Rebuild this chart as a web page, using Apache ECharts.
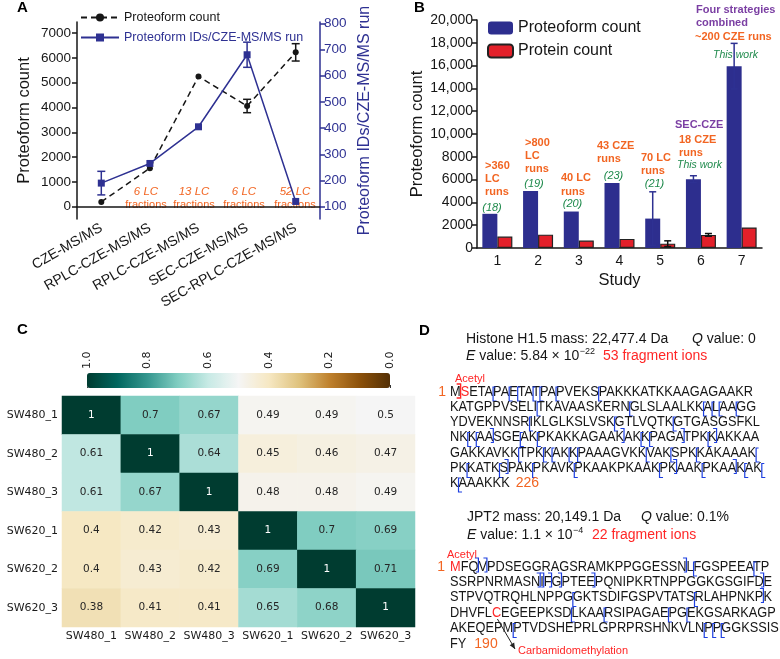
<!DOCTYPE html>
<html><head><meta charset="utf-8">
<script src="https://cdn.jsdelivr.net/npm/echarts@6/dist/echarts.min.js"></script>
<style>html,body{margin:0;padding:0;background:#fff}#c{width:780px;height:659px}</style>
</head><body><div id="c"></div>
<script>
// ---------------- DATA ----------------
// Panel A
const aCategories = ['CZE-MS/MS', 'RPLC-CZE-MS/MS', 'RPLC-CZE-MS/MS', 'SEC-CZE-MS/MS', 'SEC-RPLC-CZE-MS/MS'];
const aProteoformCount = [190, 1550, 5250, 4060, 6225];
const aProteoformCountErr = [0, 0, 0, 270, 350];
const aIdsPerRun = [190, 265, 405, 680, 120];
const aIdsPerRunErr = [45, 0, 0, 48, 0];
const aLeftTicks = [0, 1000, 2000, 3000, 4000, 5000, 6000, 7000];
const aRightTicks = [100, 200, 300, 400, 500, 600, 700, 800];
const aFractionNotes = [['6 LC', 'fractions'], ['13 LC', 'fractions'], ['6 LC', 'fractions'], ['52 LC', 'fractions']];

// Panel B
const bStudies = ['1', '2', '3', '4', '5', '6', '7'];
const bProteoformCount = [3000, 5000, 3200, 5700, 2580, 6040, 15950];
const bProteoformErr = [0, 0, 0, 0, 2350, 300, 2000];
const bProteinCount = [1000, 1170, 650, 800, 380, 1150, 1800];
const bProteinErr = [0, 0, 0, 0, 250, 120, 0];
const bTicks = [0, 2000, 4000, 6000, 8000, 10000, 12000, 14000, 16000, 18000, 20000];

// Panel C
const cSamples = ['SW480_1', 'SW480_2', 'SW480_3', 'SW620_1', 'SW620_2', 'SW620_3'];
const cCorrelation = [
  [1, 0.7, 0.67, 0.49, 0.49, 0.5],
  [0.61, 1, 0.64, 0.45, 0.46, 0.47],
  [0.61, 0.67, 1, 0.48, 0.48, 0.49],
  [0.4, 0.42, 0.43, 1, 0.7, 0.69],
  [0.4, 0.43, 0.42, 0.69, 1, 0.71],
  [0.38, 0.41, 0.41, 0.65, 0.68, 1]
];
const cColorbarTicks = [0, 0.2, 0.4, 0.6, 0.8, 1.0];

// Panel D
const dH15Title = 'Histone H1.5 mass: 22,477.4 Da';
const dH15Q = ' value: 0';
const dH15E = ' value: 5.84 × 10';
const dH15Exp = '−22';
const dH15Ions = '53 fragment ions';
const dH15Seq = [
  'MSETAPAETATPAPVEKSPAKKKATKKAAGAGAAKR',
  'KATGPPVSELITKAVAASKERNGLSLAALKKALAAGG',
  'YDVEKNNSRIKLGLKSLVSKGTLVQTKGTGASGSFKL',
  'NKKAASGEAKPKAKKAGAAKAKKPAGATPKKAKKAA',
  'GAKKAVKKTPKKAKKPAAAGVKKVAKSPKKAKAAAK',
  'PKKATKSPAKPKAVKPKAAKPKAAKPKAAKPKAAKAK',
  'KAAAKKK'
];
const dH15Length = '226';
const dH15Cuts = [
  [[5,'c'],[7,'c'],[8,'c'],[10,'c'],[11,'c'],[13,'c'],[18,'c']],
  [[11,'c'],[22,'c'],[31,'c'],[32,'c'],[33,'c'],[35,'c']],
  [[9,'c'],[20,'c'],[27,'c']],
  [[2,'c'],[3,'c'],[5,'n'],[8,'c'],[10,'c'],[20,'n'],[22,'c'],[23,'c'],[27,'n'],[30,'c'],[31,'n']],
  [[8,'c'],[11,'c'],[12,'c'],[14,'c'],[15,'c'],[23,'c'],[26,'c'],[29,'c'],[36,'c']],
  [[2,'c'],[6,'c'],[7,'n'],[10,'c'],[15,'c'],[25,'c'],[27,'n'],[30,'c'],[34,'n'],[35,'c'],[37,'c']],
  [[1,'c']]
];
const dH15Red = [[0, 1]]; // [line, index] of red residues
const dJPT2Title = 'JPT2 mass: 20,149.1 Da';
const dJPT2Q = ' value: 0.1%';
const dJPT2E = ' value: 1.1 × 10';
const dJPT2Exp = '−4';
const dJPT2Ions = '22 fragment ions';
const dJPT2Seq = [
  'MFQVPDSEGGRAGSRAMKPPGGESSNLFGSPEEATP',
  'SSRPNRMASNIFGPTEEPQNIPKRTNPPGGKGSGIFDE',
  'STPVQTRQHLNPPGGKTSDIFGSPVTATSRLAHPNKPK',
  'DHVFLCEGEEPKSDLKAARSIPAGAEPGEKGSARKAGP',
  'AKEQEPMPTVDSHEPRLGPRPRSHNKVLNPPGGKSSIS',
  'FY'
];
const dJPT2Length = '190';
const dJPT2Cuts = [
  [[3,'n'],[4,'n'],[26,'n'],[27,'c'],[34,'c']],
  [[10,'n'],[11,'n'],[12,'n'],[13,'n'],[17,'n'],[37,'n']],
  [[14,'c'],[29,'c'],[37,'n']],
  [[14,'c'],[18,'c'],[26,'c'],[28,'c']],
  [[7,'c'],[29,'c'],[30,'c'],[31,'c']],
  []
];
const dJPT2Red = [[0, 0], [3, 5]];
const dAcetyl = 'Acetyl';
const dCarbamido = 'Carbamidomethylation';

// ---------------- STYLE ----------------
const SANS = '"Liberation Sans", Arial, sans-serif';
const DJ = '"DejaVu Sans", sans-serif';
const INK = '#161616';
const BLUE = '#2e3192';
const BAR_BLUE = '#2d2e8e';
const RED = '#e3202a';
const ORANGE = '#f26522';
const PURPLE = '#7b3fa3';
const GREEN = '#1f8a4c';
const FRAG_RED = '#ff2626';
const FRAG_BLUE = '#1d3fe0';
const BRBG = ['#543005','#8c510a','#bf812d','#dfc27d','#f6e8c3','#f5f5f5','#c7eae5','#80cdc1','#35978f','#01665e','#003c30'];

const chart = echarts.init(document.getElementById('c'), null, {renderer: 'canvas'});

function errBar(color, offsetPx, capHalf) {
  return function (params, api) {
    const i = api.value(0), v = api.value(1), e = api.value(2);
    if (!e) return null;
    const top = api.coord([i, v + e]), bot = api.coord([i, v - e]);
    const x = top[0] + offsetPx;
    const st = {stroke: color, lineWidth: 1.5};
    return {type: 'group', children: [
      {type: 'line', shape: {x1: x, y1: top[1], x2: x, y2: bot[1]}, style: st},
      {type: 'line', shape: {x1: x - capHalf, y1: top[1], x2: x + capHalf, y2: top[1]}, style: st},
      {type: 'line', shape: {x1: x - capHalf, y1: bot[1], x2: x + capHalf, y2: bot[1]}, style: st}
    ]};
  };
}

// ---------------- GRAPHICS ----------------
const mctx = document.createElement('canvas').getContext('2d');
function measure(s, font) { mctx.font = font; return mctx.measureText(s).width; }
const gfx = [];
function txt(x, y, text, font, fill, align, extra) {
  const el = {type: 'text', x: x, y: y, silent: true,
    style: {text: text, font: font, fill: fill, textAlign: align || 'left', textVerticalAlign: 'middle', align: align || 'left', verticalAlign: 'middle'}};
  if (extra) Object.assign(el, extra);
  gfx.push(el);
}
function pline(points, color, w) {
  gfx.push({type: 'polyline', silent: true, shape: {points: points}, style: {stroke: color, lineWidth: w || 1.2, fill: null}});
}

// Panel labels
const LBL = 'bold 15px ' + SANS;
txt(17, 8, 'A', LBL, '#000');
txt(414, 8, 'B', LBL, '#000');
txt(17, 330, 'C', LBL, '#000');
txt(419, 331, 'D', LBL, '#000');

// Panel A notes
const aNoteX = [146, 194, 244, 295];
aFractionNotes.forEach((n, i) => {
  txt(aNoteX[i], 192, n[0], 'italic 11.5px ' + SANS, ORANGE, 'center');
  txt(aNoteX[i], 204.5, n[1], '11px ' + SANS, ORANGE, 'center');
});

// Panel B notes
const BO = 'bold 11px ' + SANS, BP = 'bold 11px ' + SANS, GI = 'italic 11px ' + SANS;
[
  ['>360', 485, 166, BO, ORANGE], ['LC', 485, 179, BO, ORANGE], ['runs', 485, 192, BO, ORANGE],
  ['>800', 525, 142.5, BO, ORANGE], ['LC', 525, 155.5, BO, ORANGE], ['runs', 525, 168.5, BO, ORANGE],
  ['40 LC', 561, 178, BO, ORANGE], ['runs', 561, 191.5, BO, ORANGE],
  ['43 CZE', 597, 146, BO, ORANGE], ['runs', 597, 159, BO, ORANGE],
  ['70 LC', 641, 157.5, BO, ORANGE], ['runs', 641, 170.5, BO, ORANGE],
  ['SEC-CZE', 675, 124.5, BP, PURPLE], ['18 CZE', 679, 139.5, BO, ORANGE], ['runs', 679, 152.5, BO, ORANGE],
  ['This work', 677, 165.5, 'italic 10.5px ' + SANS, GREEN],
  ['Four strategies', 696, 9.5, BP, PURPLE], ['combined', 696, 22.5, BP, PURPLE],
  ['~200 CZE runs', 695, 37, BO, ORANGE], ['This work', 713, 55, 'italic 10.5px ' + SANS, GREEN]
].forEach(t => txt(t[1], t[2], t[0], t[3], t[4]));
[['(18)', 492, 207.5], ['(19)', 534, 184], ['(20)', 572.5, 204], ['(23)', 613.5, 176], ['(21)', 654.5, 184]]
  .forEach(t => txt(t[1], t[2], t[0], GI, GREEN, 'center'));

// Panel D
const HF = '14px ' + SANS, HFI = 'italic 14px ' + SANS;
const SEQ_FONT = '14px "Liberation Sans"';
const SEQ_FONT_FULL = '14px "Liberation Sans", Arial, sans-serif';
const seqScale = 303 / measure(dH15Seq[0], SEQ_FONT);

function header(x, y1, y2, title, qx, qText, eText, expText, ionsX, ionsText) {
  txt(x, y1, title, HF, INK);
  txt(qx, y1, 'Q', HFI, INK);
  txt(qx + measure('Q', 'italic 14px "Liberation Sans"'), y1, qText, HF, INK);
  txt(x, y2, 'E', HFI, INK);
  const ew = measure('E', 'italic 14px "Liberation Sans"');
  txt(x + ew, y2, eText, HF, INK);
  const ex = x + ew + measure(eText, '14px "Liberation Sans"') + 0.5;
  txt(ex, y2 - 4.5, expText, '9px ' + SANS, INK);
  txt(ionsX, y2, ionsText, HF, FRAG_RED);
}
function seqBlock(x0, ys, lines, redList, cuts) {
  lines.forEach((line, li) => {
    const y = ys[li];
    const redSet = new Set(redList.filter(r => r[0] === li).map(r => r[1]));
    let start = 0;
    for (let i = 1; i <= line.length; i++) {
      const cur = redSet.has(start);
      if (i === line.length || redSet.has(i) !== cur) {
        const seg = line.slice(start, i);
        const px = x0 + seqScale * measure(line.slice(0, start), SEQ_FONT);
        txt(px, y, seg, SEQ_FONT_FULL, cur ? FRAG_RED : INK, 'left', {scaleX: seqScale});
        start = i;
      }
    }
    (cuts[li] || []).forEach(c => {
      const x = x0 + seqScale * measure(line.slice(0, c[0]), SEQ_FONT);
      if (c[1] === 'c') pline([[x + 2.5, y - 5], [x, y - 5], [x, y + 9], [x + 3.5, y + 9]], FRAG_BLUE);
      else pline([[x - 3.5, y - 9], [x, y - 9], [x, y + 5], [x - 2.5, y + 5]], FRAG_BLUE);
    });
  });
}

// Histone H1.5
header(466, 339.5, 356, dH15Title, 692, dH15Q, dH15E, dH15Exp, 603, dH15Ions);
txt(455, 378.5, dAcetyl, '11px ' + SANS, FRAG_RED);
const h15Y = [392, 407, 422, 437.5, 453, 468.5, 483];
txt(446, h15Y[0], '1', HF, ORANGE, 'right');
seqBlock(450, h15Y, dH15Seq, dH15Red, dH15Cuts);
{
  const x = 450 + seqScale * measure('M', SEQ_FONT);
  pline([[x - 4, h15Y[0] - 8], [x, h15Y[0] - 8], [x, h15Y[0] + 6], [x - 4, h15Y[0] + 6]], FRAG_RED, 1.3);
  const lx = 450 + seqScale * measure(dH15Seq[6], SEQ_FONT) + 6;
  txt(lx, h15Y[6], dH15Length, HF, ORANGE);
}

// JPT2
header(467, 517, 535, dJPT2Title, 641, dJPT2Q, dJPT2E, dJPT2Exp, 592, dJPT2Ions);
txt(447, 555, dAcetyl, '11px ' + SANS, FRAG_RED);
const jY = [567, 582, 597.5, 613, 628.5, 644];
txt(445, jY[0], '1', HF, ORANGE, 'right');
seqBlock(450, jY, dJPT2Seq, dJPT2Red, dJPT2Cuts);
{
  const lx = 450 + seqScale * measure(dJPT2Seq[5], SEQ_FONT) + 8;
  txt(lx, jY[5], dJPT2Length, HF, ORANGE);
  const cx = 450 + seqScale * (measure('DHVFL', SEQ_FONT) + measure('C', SEQ_FONT) * 0.6);
  const sx = cx, sy = jY[3] + 6, ex = 515, ey = 649;
  gfx.push({type: 'line', silent: true, shape: {x1: sx, y1: sy, x2: ex, y2: ey}, style: {stroke: '#222', lineWidth: 1}});
  const ang = Math.atan2(ey - sy, ex - sx), L = 6, W = 2.6;
  gfx.push({type: 'polygon', silent: true, shape: {points: [
    [ex, ey],
    [ex - L * Math.cos(ang) + W * Math.sin(ang), ey - L * Math.sin(ang) - W * Math.cos(ang)],
    [ex - L * Math.cos(ang) - W * Math.sin(ang), ey - L * Math.sin(ang) + W * Math.cos(ang)]
  ]}, style: {fill: '#222'}});
  txt(518, 650.5, dCarbamido, '11px ' + SANS, FRAG_RED);
}

// ---------------- OPTION ----------------
const heatData = [];
cCorrelation.forEach((row, r) => row.forEach((v, c) => {
  heatData.push({value: [c, r, v], label: {color: v >= 0.9 ? '#ffffff' : '#262626'}});
}));

const axisInk = {lineStyle: {color: INK, width: 1.5}};
const option = {
  animation: false,
  textStyle: {fontFamily: SANS},
  grid: [
    {left: 77, top: 22, width: 243, height: 197},
    {left: 477, top: 20, width: 285, height: 228},
    {left: 62, top: 396, width: 353, height: 231},
    {left: 87, top: 373, width: 303, height: 15}
  ],
  legend: [
    {
      data: [{name: 'Proteoform count'}, {name: 'Proteoform IDs/CZE-MS/MS run', textStyle: {color: BLUE}}],
      left: 80, top: 11, orient: 'vertical', itemWidth: 38, itemHeight: 10, itemGap: 7, padding: 0,
      selectedMode: false, textStyle: {fontSize: 12.5, color: INK, fontFamily: SANS}
    },
    {
      data: ['B-Proteoform count', 'B-Protein count'], formatter: n => n.replace('B-', ''),
      left: 487, top: 20, orient: 'vertical', itemWidth: 25, itemHeight: 13, itemGap: 7, padding: 0,
      selectedMode: false, textStyle: {fontSize: 16, color: INK, fontFamily: SANS}
    }
  ],
  xAxis: [
    {gridIndex: 0, type: 'category', data: aCategories, axisLine: axisInk,
      axisTick: {alignWithLabel: true, length: 5, lineStyle: {color: INK, width: 1.5}},
      axisLabel: {rotate: 30, fontSize: 14, color: INK, margin: 8, interval: 0}, splitLine: {show: false}},
    {gridIndex: 1, type: 'category', data: bStudies, name: 'Study', nameLocation: 'middle', nameGap: 24,
      nameTextStyle: {fontSize: 16.5, color: INK}, axisLine: axisInk,
      axisTick: {alignWithLabel: true, length: 4, lineStyle: {color: INK, width: 1.5}},
      axisLabel: {fontSize: 14, color: INK, margin: 6}, splitLine: {show: false}},
    {gridIndex: 2, type: 'category', data: cSamples, axisLine: {show: false},
      axisTick: {alignWithLabel: true, length: 3, interval: 0, lineStyle: {color: '#333'}},
      axisLabel: {fontFamily: DJ, fontSize: 11, color: '#1a1a1a', margin: 4, interval: 0}, splitLine: {show: false}},
    {gridIndex: 3, type: 'value', min: 0, max: 1, inverse: true, position: 'top', axisLine: {show: false},
      axisTick: {show: true, length: 3, lineStyle: {color: '#333'}, customValues: cColorbarTicks},
      axisLabel: {rotate: 90, fontFamily: DJ, fontSize: 11, color: '#1a1a1a', margin: 4,
        customValues: cColorbarTicks, formatter: v => Number(v).toFixed(1)}, splitLine: {show: false}}
  ],
  yAxis: [
    {gridIndex: 0, type: 'value', position: 'left', min: -500, max: 7450,
      name: 'Proteoform count', nameLocation: 'middle', nameGap: 44, nameRotate: 90,
      nameTextStyle: {fontSize: 16.5, color: INK},
      axisLine: {show: true, lineStyle: {color: INK, width: 1.5}},
      axisTick: {show: true, length: 5, lineStyle: {color: INK, width: 1.5}, customValues: aLeftTicks},
      axisLabel: {fontSize: 13.5, color: INK, margin: 6, customValues: aLeftTicks, formatter: v => String(v)},
      splitLine: {show: false}},
    {gridIndex: 0, type: 'value', position: 'right', min: 53, max: 805,
      name: 'Proteoform IDs/CZE-MS/MS run', nameLocation: 'middle', nameGap: 37, nameRotate: 90,
      nameTextStyle: {fontSize: 16, color: BLUE},
      axisLine: {show: true, lineStyle: {color: BLUE, width: 1.5}},
      axisTick: {show: true, length: 5, lineStyle: {color: BLUE, width: 1.5}, customValues: aRightTicks},
      axisLabel: {fontSize: 13.5, color: BLUE, margin: 4, customValues: aRightTicks, formatter: v => String(v)},
      splitLine: {show: false}},
    {gridIndex: 1, type: 'value', min: 0, max: 20000,
      name: 'Proteoform count', nameLocation: 'middle', nameGap: 49, nameRotate: 90,
      nameTextStyle: {fontSize: 16.5, color: INK},
      axisLine: {show: true, lineStyle: {color: INK, width: 1.5}},
      axisTick: {show: true, length: 5, lineStyle: {color: INK, width: 1.5}, customValues: bTicks},
      axisLabel: {fontSize: 14, color: INK, margin: 4, customValues: bTicks,
        formatter: v => v >= 10000 ? Number(v).toLocaleString('en-US') : String(v)}, splitLine: {show: false}},
    {gridIndex: 2, type: 'category', data: cSamples, inverse: true, axisLine: {show: false},
      axisTick: {alignWithLabel: true, length: 3, interval: 0, lineStyle: {color: '#333'}},
      axisLabel: {fontFamily: DJ, fontSize: 11, color: '#1a1a1a', margin: 4, interval: 0}, splitLine: {show: false}},
    {gridIndex: 3, type: 'value', show: false, min: 0, max: 1}
  ],
  visualMap: {
    type: 'continuous', min: 0, max: 1, seriesIndex: 8, orient: 'horizontal', inverse: true,
    left: 87, top: 373, itemWidth: 15, itemHeight: 303, padding: 0, calculable: false,
    text: null, inRange: {color: BRBG}, hoverLink: false
  },
  series: [
    {type: 'line', name: 'Proteoform count', xAxisIndex: 0, yAxisIndex: 0, data: aProteoformCount,
      color: INK, lineStyle: {type: [6, 4], width: 1.5, color: INK}, itemStyle: {color: INK},
      symbol: 'circle', symbolSize: 6, z: 3},
    {type: 'line', name: 'Proteoform IDs/CZE-MS/MS run', xAxisIndex: 0, yAxisIndex: 1, data: aIdsPerRun,
      color: BLUE, lineStyle: {width: 1.5, color: BLUE}, itemStyle: {color: BLUE},
      symbol: 'rect', symbolSize: 7, z: 3},
    {type: 'custom', xAxisIndex: 0, yAxisIndex: 0, renderItem: errBar(INK, 0, 4), z: 4,
      data: aProteoformCount.map((v, i) => [i, v, aProteoformCountErr[i]])},
    {type: 'custom', xAxisIndex: 0, yAxisIndex: 1, renderItem: errBar(BLUE, 0, 4), z: 4,
      data: aIdsPerRun.map((v, i) => [i, v, aIdsPerRunErr[i]])},
    {type: 'bar', name: 'B-Proteoform count', xAxisIndex: 1, yAxisIndex: 2, data: bProteoformCount,
      barWidth: 15, barGap: '0%', itemStyle: {color: BAR_BLUE}},
    {type: 'bar', name: 'B-Protein count', xAxisIndex: 1, yAxisIndex: 2, data: bProteinCount,
      barWidth: 15, barGap: '0%', itemStyle: {color: RED, borderColor: '#222', borderWidth: 1.2}},
    {type: 'custom', xAxisIndex: 1, yAxisIndex: 2, renderItem: errBar(BLUE, -7.5, 3.5), z: 4,
      data: bProteoformCount.map((v, i) => [i, v, bProteoformErr[i]])},
    {type: 'custom', xAxisIndex: 1, yAxisIndex: 2, renderItem: errBar('#111', 7.5, 3.5), z: 4,
      data: bProteinCount.map((v, i) => [i, v, bProteinErr[i]])},
    {type: 'heatmap', xAxisIndex: 2, yAxisIndex: 3, data: heatData,
      label: {show: true, fontFamily: DJ, fontSize: 10.5, formatter: p => String(p.value[2])},
      itemStyle: {borderWidth: 0}, emphasis: {disabled: true}}
  ],
  graphic: {elements: gfx}
};
chart.setOption(option);
</script>
</body></html>
